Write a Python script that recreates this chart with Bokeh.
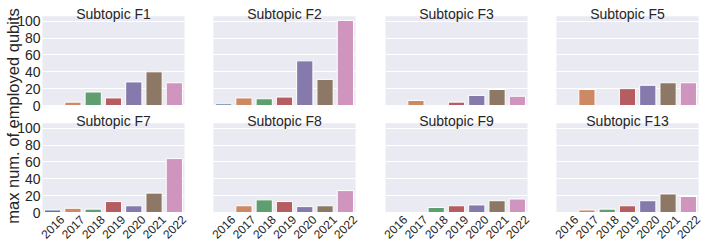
import math
from bokeh.plotting import figure
from bokeh.models import Range1d, FixedTicker, ColumnDataSource, LabelSet, Label, BoxAnnotation
from bokeh.layouts import row
from bokeh.core.properties import value
from bokeh.embed import file_html
from bokeh.resources import INLINE

# ---- data ----
years = ["2016", "2017", "2018", "2019", "2020", "2021", "2022"]
subtopics = ["F1", "F2", "F3", "F5", "F7", "F8", "F9", "F13"]
f1 = [None, 4, 16, 9, 28, 40, 27]
f2 = [2, 9, 8, 10, 53, 31, 101]
f3 = [None, 6, None, 4, 12, 19, 11]
f5 = [None, 19, None, 20, 24, 27, 27]
f7 = [3, 5, 4, 13, 8, 23, 64]
f8 = [None, 8, 15, 13, 7, 8, 26]
f9 = [None, None, 6, 8, 9, 14, 16]
f13 = [None, 3, 4, 8, 14, 22, 19]
series = [f1, f2, f3, f5, f7, f8, f9, f13]
yticks = [0, 20, 40, 60, 80, 100]
ylabel = "max num. of employed qubits"

palette = ["#5975A4", "#CC8963", "#5F9E6E", "#B55D60", "#857AAB", "#8D7866", "#D095BF"]

FONT = "Liberation Sans"
TXT = "#262626"
BG = "#EAEAF2"

# ---- layout constants (pixels) ----
YMAX = 106              # axes upper limit (data units)
S = 0.8425              # px per data unit
OFF = 127               # vertical offset (data units) between the two panel rows
Z2 = 212                # pixel row of the lower panels' zero line
FH = 246                # figure height
PW = 142                # panel width
KX = len(years) / PW    # x data units per px
panel_left = [42, 213, 385, 556]
frame_edges = [0, 198, 370, 541, 704]
YLABEL_X = 12.5         # page x of y-label centre
YLABEL_Y = 115.5        # page y of y-label centre

all_ticks = yticks + [t + OFF for t in yticks]


def bars(p, vals, range_name):
    xs = [i for i, v in enumerate(vals) if v is not None]
    src = ColumnDataSource(dict(x=xs, top=[vals[i] for i in xs],
                                color=[palette[i] for i in xs]))
    p.vbar(x="x", top="top", bottom=0, width=0.8, fill_color="color",
           line_color="white", line_width=1, source=src, y_range_name=range_name)


def column_fig(c):
    fl, fr = frame_edges[c], frame_edges[c + 1]
    pl = panel_left[c]
    pr = pl + PW
    x0 = -0.5 - (pl - fl) * KX
    x1 = len(years) - 0.5 + (fr - pr) * KX
    y0 = -(FH - Z2) / S
    y1 = Z2 / S
    p = figure(frame_width=fr - fl, frame_height=FH,
               x_range=Range1d(x0, x1), y_range=Range1d(y0, y1),
               output_backend="svg", toolbar_location=None,
               min_border=0,
               background_fill_color="white", border_fill_color="white",
               outline_line_color=None)
    p.extra_y_ranges = {"top": Range1d(y0 - OFF, y1 - OFF)}

    # panel backgrounds
    for rn in ("top", "default"):
        p.add_layout(BoxAnnotation(left=-0.5, right=len(years) - 0.5, bottom=0, top=YMAX,
                                   fill_color=BG, fill_alpha=1, line_color=None,
                                   level="image", y_range_name=rn))

    p.axis.visible = False
    p.xgrid.visible = False
    grid = p.ygrid[0]
    grid.ticker = FixedTicker(ticks=all_ticks)
    grid.grid_line_color = "white"
    grid.grid_line_width = 1
    try:
        grid.cross_bounds = (-0.5, len(years) - 0.5)
    except Exception:
        grid.visible = False
        p.segment(x0=[-0.5] * len(all_ticks), x1=[len(years) - 0.5] * len(all_ticks),
                  y0=all_ticks, y1=all_ticks, line_color="white", line_width=1,
                  level="underlay")

    top_i, bot_i = c, c + 4
    bars(p, series[top_i], "top")
    bars(p, series[bot_i], "default")

    # panel titles
    for i, rn in ((top_i, "top"), (bot_i, "default")):
        p.add_layout(Label(x=(len(years) - 1) / 2, y=YMAX + 2 / S, y_range_name=rn,
                           text=f"Subtopic {subtopics[i]}", text_align="center",
                           text_baseline="alphabetic", text_font=FONT,
                           text_font_size="14px", text_color=TXT))

    # x tick labels (rotated, centred under each bar)
    lsrc = ColumnDataSource(dict(x=list(range(len(years))),
                                 y=[-14.4 / S] * len(years), t=years))
    p.add_layout(LabelSet(x="x", y="y", text="t", source=lsrc, angle=math.pi / 4,
                          text_align="center", text_baseline="middle",
                          text_font=value(FONT), text_font_size=value("12px"),
                          text_color=value(TXT)))

    if c == 0:
        # y tick labels for both rows
        for rn in ("top", "default"):
            ysrc = ColumnDataSource(dict(x=[-0.5 - 2 * KX] * len(yticks), y=yticks,
                                         t=[str(t) for t in yticks]))
            p.add_layout(LabelSet(x="x", y="y", text="t", source=ysrc, y_range_name=rn,
                                  text_align="right", text_baseline="middle",
                                  text_font=value(FONT), text_font_size=value("14px"),
                                  text_color=value(TXT)))
        # shared y-axis label
        p.add_layout(Label(x=-0.5 - (pl - YLABEL_X) * KX, y=(Z2 - YLABEL_Y) / S,
                           text=ylabel, angle=math.pi / 2, text_align="center",
                           text_baseline="middle", text_font=FONT,
                           text_font_size="16.5px", text_color=TXT))
    return p


layout = row(*[column_fig(c) for c in range(4)])
open("out.html", "w").write(file_html(layout, INLINE))
